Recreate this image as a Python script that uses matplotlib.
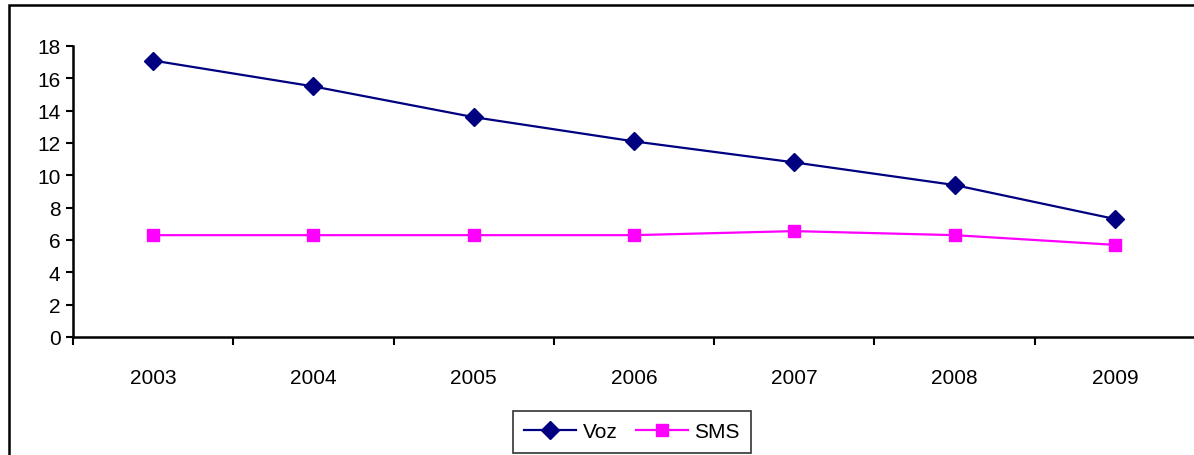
import matplotlib
matplotlib.use("Agg")
import matplotlib.pyplot as plt
from matplotlib.patches import Rectangle

# valores
years = ["2003", "2004", "2005", "2006", "2007", "2008", "2009"]
voz = [17.1, 15.5, 13.6, 12.1, 10.8, 9.4, 7.3]
sms = [6.3, 6.3, 6.3, 6.3, 6.55, 6.3, 5.7]

plt.rcParams['font.family'] = ['Liberation Sans', 'DejaVu Sans']

fig = plt.figure(figsize=(11.94, 4.56), dpi=100)
ax = fig.add_axes([73 / 1194, 1 - 338 / 456, 1122 / 1194, 291 / 456])

x = list(range(len(years)))
ax.plot(x, voz, color='#000080', lw=1.6, marker='D', ms=9.5, label='Voz')
ax.plot(x, sms, color='#ff00ff', lw=1.6, marker='s', ms=8.5, label='SMS')

ax.set_xlim(-0.5, len(years) - 0.5)
ax.set_ylim(0, 18)
ax.set_yticks(range(0, 19, 2))
ax.set_xticks(x)
ax.set_xticklabels(years)
ax.set_xticks([i - 0.5 for i in range(len(years) + 1)], minor=True)

ax.tick_params(axis='x', which='major', length=0, pad=22, labelsize=15)
ax.tick_params(axis='x', which='minor', length=6, width=1.5, direction='out')
ax.tick_params(axis='y', length=5, width=1.5, direction='out', pad=4, labelsize=15)

for s in ['top', 'right']:
    ax.spines[s].set_visible(False)
for s in ['left', 'bottom']:
    ax.spines[s].set_linewidth(1.8)
    ax.spines[s].set_color('black')

leg = ax.legend(loc='center', bbox_to_anchor=(632 / 1194, 1 - 433 / 456),
                bbox_transform=fig.transFigure, ncol=2, frameon=True,
                fancybox=False, edgecolor='black', fontsize=15,
                handlelength=2.5, handletextpad=0.3, columnspacing=0.9,
                borderpad=0.55, borderaxespad=0)
leg.get_frame().set_linewidth(1.2)

# marco exterior (recortado a la derecha y abajo)
fig.patches.append(Rectangle((9 / 1194, -0.1), 1.2, 1 - 6 / 456 + 0.1,
                             transform=fig.transFigure, fill=False,
                             edgecolor='black', lw=1.8, clip_on=False))

fig.savefig('out.png', dpi=100)
